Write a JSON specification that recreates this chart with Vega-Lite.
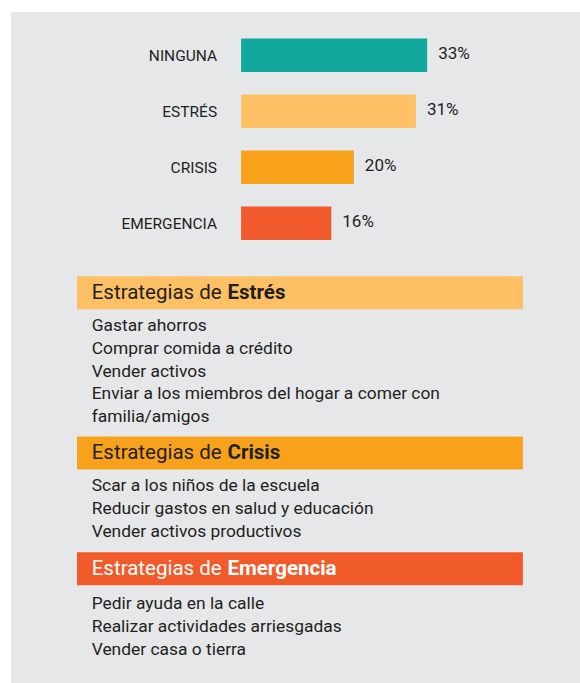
{
  "$schema": "https://vega.github.io/schema/vega-lite/v6.json",
  "background": "white",
  "padding": {"left": 11, "top": 12, "right": 0, "bottom": 0},
  "spacing": 0,
  "bounds": "flush",
  "config": {
    "view": {"fill": "#e6e7e8", "stroke": null},
    "text": {"font": "Roboto", "color": "#231f20"}
  },
  "vconcat": [
    {
      "width": 569,
      "height": 254,
      "data": {"values": [
        {"cat": "NINGUNA", "share": 0.33},
        {"cat": "ESTRÉS", "share": 0.31},
        {"cat": "CRISIS", "share": 0.20},
        {"cat": "EMERGENCIA", "share": 0.16}
      ]},
      "encoding": {
        "y": {"field": "cat", "type": "nominal", "sort": null, "axis": null,
              "scale": {"paddingInner": 0.402, "paddingOuter": 0.469, "align": 0.505, "round": false}}
      },
      "layer": [
        {
          "mark": {"type": "bar"},
          "encoding": {
            "x": {"field": "share", "type": "quantitative", "axis": null,
                  "scale": {"domain": [-0.408, 0.601], "nice": false, "zero": false}},
            "color": {"field": "cat", "type": "nominal", "legend": null,
                      "scale": {"domain": ["NINGUNA", "ESTRÉS", "CRISIS", "EMERGENCIA"],
                                "range": ["#12a89d", "#fdc064", "#f8a21c", "#f15a2b"]}}
          }
        },
        {
          "mark": {"type": "text", "align": "right", "baseline": "middle", "dx": -24, "dy": 1, "fontSize": 15.5},
          "encoding": {
            "x": {"datum": 0, "type": "quantitative"},
            "text": {"field": "cat"}
          }
        },
        {
          "mark": {"type": "text", "align": "left", "baseline": "middle", "dx": 11, "dy": -1, "fontSize": 17},
          "encoding": {
            "x": {"field": "share", "type": "quantitative"},
            "text": {"field": "share", "type": "quantitative", "format": ".0%"}
          }
        }
      ]
    },
    {
      "width": 569,
      "height": 166,
      "data": {"values": [
        {"idx": 0, "kind": "header", "pre": "Estrategias de", "bold": "Estrés"},
        {"idx": 1, "kind": "item", "text": "Gastar ahorros"},
        {"idx": 2, "kind": "item", "text": "Comprar comida a crédito"},
        {"idx": 3, "kind": "item", "text": "Vender activos"},
        {"idx": 4, "kind": "item", "text": "Enviar a los miembros del hogar a comer con"},
        {"idx": 5, "kind": "item", "text": "familia/amigos"}
      ]},
      "encoding": {
        "y": {"field": "idx", "type": "ordinal", "axis": null,
              "scale": {"paddingInner": 0, "paddingOuter": 0.64, "align": 0.8836, "round": false}}
      },
      "layer": [
        {
          "transform": [{"filter": "datum.kind === 'header'"}],
          "mark": {"type": "bar", "height": 33, "yOffset": -10.5, "color": "#fdc064"},
          "encoding": {
            "x": {"datum": 0, "type": "quantitative", "axis": null,
                  "scale": {"domain": [-0.148, 1.128], "nice": false, "zero": false}},
            "x2": {"datum": 1}
          }
        },
        {
          "transform": [{"filter": "datum.kind === 'header'"}],
          "mark": {"type": "text", "align": "left", "baseline": "middle", "dx": 14.7, "yOffset": -10.5, "fontSize": 20.5},
          "encoding": {"x": {"datum": 0, "type": "quantitative"}, "text": {"field": "pre"}}
        },
        {
          "transform": [{"filter": "datum.kind === 'header'"}],
          "mark": {"type": "text", "align": "left", "baseline": "middle", "dx": 150.5, "yOffset": -10.5, "fontSize": 20.5, "fontWeight": "bold"},
          "encoding": {"x": {"datum": 0, "type": "quantitative"}, "text": {"field": "bold"}}
        },
        {
          "transform": [{"filter": "datum.kind === 'item'"}],
          "mark": {"type": "text", "align": "left", "baseline": "middle", "dx": 14.7, "fontSize": 17.4},
          "encoding": {"x": {"datum": 0, "type": "quantitative"}, "text": {"field": "text"}}
        }
      ]
    },
    {
      "width": 569,
      "height": 114,
      "data": {"values": [
        {"idx": 0, "kind": "header", "pre": "Estrategias de", "bold": "Crisis"},
        {"idx": 1, "kind": "item", "text": "Scar a los niños de la escuela"},
        {"idx": 2, "kind": "item", "text": "Reducir gastos en salud y educación"},
        {"idx": 3, "kind": "item", "text": "Vender activos productivos"}
      ]},
      "encoding": {
        "y": {"field": "idx", "type": "ordinal", "axis": null,
              "scale": {"paddingInner": 0, "paddingOuter": 0.5, "align": 0.882, "round": false}}
      },
      "layer": [
        {
          "transform": [{"filter": "datum.kind === 'header'"}],
          "mark": {"type": "bar", "height": 33, "yOffset": -10.5, "color": "#f8a21c"},
          "encoding": {
            "x": {"datum": 0, "type": "quantitative", "axis": null,
                  "scale": {"domain": [-0.148, 1.128], "nice": false, "zero": false}},
            "x2": {"datum": 1}
          }
        },
        {
          "transform": [{"filter": "datum.kind === 'header'"}],
          "mark": {"type": "text", "align": "left", "baseline": "middle", "dx": 14.7, "yOffset": -10.5, "fontSize": 20.5},
          "encoding": {"x": {"datum": 0, "type": "quantitative"}, "text": {"field": "pre"}}
        },
        {
          "transform": [{"filter": "datum.kind === 'header'"}],
          "mark": {"type": "text", "align": "left", "baseline": "middle", "dx": 150.5, "yOffset": -10.5, "fontSize": 20.5, "fontWeight": "bold"},
          "encoding": {"x": {"datum": 0, "type": "quantitative"}, "text": {"field": "bold"}}
        },
        {
          "transform": [{"filter": "datum.kind === 'item'"}],
          "mark": {"type": "text", "align": "left", "baseline": "middle", "dx": 14.7, "fontSize": 17.4},
          "encoding": {"x": {"datum": 0, "type": "quantitative"}, "text": {"field": "text"}}
        }
      ]
    },
    {
      "width": 569,
      "height": 137,
      "data": {"values": [
        {"idx": 0, "kind": "header", "pre": "Estrategias de", "bold": "Emergencia"},
        {"idx": 1, "kind": "item", "text": "Pedir ayuda en la calle"},
        {"idx": 2, "kind": "item", "text": "Realizar actividades arriesgadas"},
        {"idx": 3, "kind": "item", "text": "Vender casa o tierra"}
      ]},
      "encoding": {
        "y": {"field": "idx", "type": "ordinal", "axis": null,
              "scale": {"paddingInner": 0, "paddingOuter": 0.978, "align": 0.5156, "round": false}}
      },
      "layer": [
        {
          "transform": [{"filter": "datum.kind === 'header'"}],
          "mark": {"type": "bar", "height": 33, "yOffset": -12, "color": "#f15a2b"},
          "encoding": {
            "x": {"datum": 0, "type": "quantitative", "axis": null,
                  "scale": {"domain": [-0.148, 1.128], "nice": false, "zero": false}},
            "x2": {"datum": 1}
          }
        },
        {
          "transform": [{"filter": "datum.kind === 'header'"}],
          "mark": {"type": "text", "align": "left", "baseline": "middle", "dx": 14.7, "yOffset": -12, "fontSize": 20.5, "color": "white"},
          "encoding": {"x": {"datum": 0, "type": "quantitative"}, "text": {"field": "pre"}}
        },
        {
          "transform": [{"filter": "datum.kind === 'header'"}],
          "mark": {"type": "text", "align": "left", "baseline": "middle", "dx": 150.5, "yOffset": -12, "fontSize": 20.5, "fontWeight": "bold", "color": "white"},
          "encoding": {"x": {"datum": 0, "type": "quantitative"}, "text": {"field": "bold"}}
        },
        {
          "transform": [{"filter": "datum.kind === 'item'"}],
          "mark": {"type": "text", "align": "left", "baseline": "middle", "dx": 14.7, "fontSize": 17.4},
          "encoding": {"x": {"datum": 0, "type": "quantitative"}, "text": {"field": "text"}}
        }
      ]
    }
  ]
}
